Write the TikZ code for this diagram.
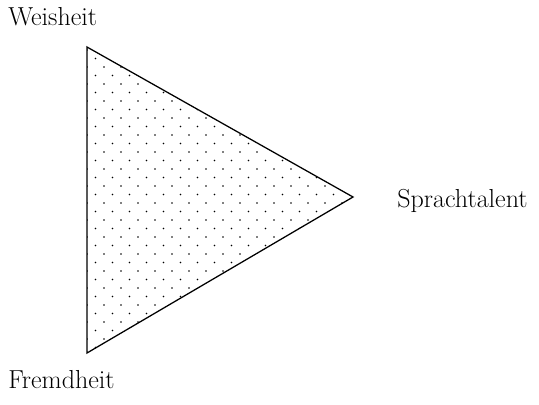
\documentclass[tikz,border=0pt]{standalone}

\begin{document}
\begin{tikzpicture}[
  x=0.025cm, y=-0.025cm,
  corner label/.style={inner sep=0pt,anchor=base west,font=\fontsize{18.5}{22}\selectfont},
  edge line/.style={line width=0.9pt,line join=miter}
]
  \useasboundingbox (0,0) rectangle (539,404);

  \coordinate (W) at (87,47);
  \coordinate (S) at (353,197);
  \coordinate (F) at (87,353);

  \node[corner label] (weisheit) at (8,25) {Weisheit};
  \node[corner label] (sprachtalent) at (397,207) {Sprachtalent};
  \node[corner label] (fremdheit) at (8,388) {Fremdheit};

  % dotted fill
  \begin{scope}
    \clip (W) -- (S) -- (F) -- cycle;
    \foreach \r in {0,...,36}
      \foreach \c in {0,...,16}
        \fill ({87+8.5*mod(\r,2)+17*\c},{50+8.5*\r}) circle[radius=0.8];
  \end{scope}

  \draw[edge line] (W) -- (S) -- (F) -- cycle;
\end{tikzpicture}
\end{document}
